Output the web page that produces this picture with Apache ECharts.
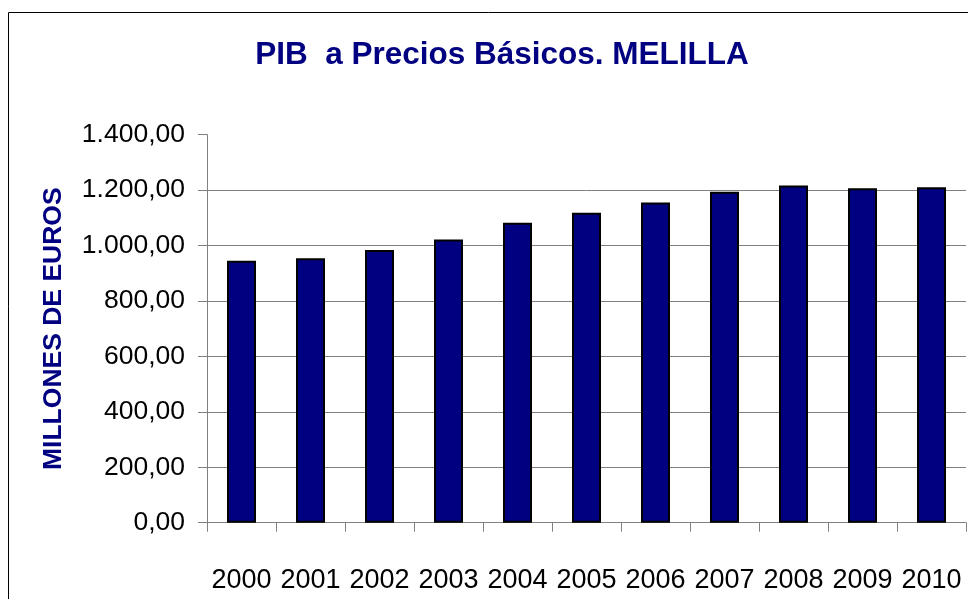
<!DOCTYPE html>
<html>
<head>
<meta charset="utf-8">
<script src="https://cdn.jsdelivr.net/npm/echarts@6/dist/echarts.min.js"></script>
<style>html,body{margin:0;padding:0;background:#fff}#c{width:968px;height:599px}</style>
</head>
<body>
<div id="c"></div>
<script>
const years = ['2000','2001','2002','2003','2004','2005','2006','2007','2008','2009','2010'];
const pib = [945, 954, 984, 1022, 1082, 1118, 1155, 1194, 1217, 1207, 1210];
const yTicks = [0, 200, 400, 600, 800, 1000, 1200, 1400];
const titleText = 'PIB  a Precios Básicos. MELILLA';
const yName = 'MILLONES DE EUROS';

function fmt(v){
  const s = Math.round(v).toString().replace(/\B(?=(\d{3})+(?!\d))/g, '.');
  return s + ',00';
}
const chart = echarts.init(document.getElementById('c'));
const ff = '"Liberation Sans", Arial, sans-serif';
chart.setOption({
  animation: false,
  backgroundColor: '#fff',
  graphic: [{type:'rect', shape:{x:8.5,y:12.5,width:1000,height:700}, style:{fill:'none', stroke:'#000', lineWidth:1}, silent:true}],
  title: {text: titleText, left: 497, top: 34, textAlign: 'center',
    textStyle: {fontFamily: ff, fontWeight: 'bold', fontSize: 31.5, color: '#000080'}},
  grid: {left: 207, top: 134.7, right: 2, bottom: 76.3, containLabel: false},
  xAxis: {type: 'category', data: years, boundaryGap: true,
    axisLine: {lineStyle: {color: '#808080', width: 1}},
    axisTick: {show: true, length: 9, alignWithLabel: false, lineStyle: {color: '#808080'}},
    axisLabel: {fontFamily: ff, fontSize: 27, color: '#000', margin: 44, interval: 0},
    splitLine: {show: false}},
  yAxis: {type: 'value', min: yTicks[0], max: yTicks[yTicks.length-1], interval: 200,
    name: yName, nameLocation: 'middle', nameGap: 140, nameRotate: 90,
    nameTextStyle: {fontFamily: ff, fontWeight: 'bold', fontSize: 26.5, color: '#000080'},
    axisLine: {show: true, lineStyle: {color: '#808080', width: 1}},
    axisTick: {show: true, length: 9, lineStyle: {color: '#808080'}},
    axisLabel: {fontFamily: ff, fontSize: 26.5, color: '#000', margin: 22, formatter: fmt},
    splitLine: {show: true, lineStyle: {color: ['#808080','#808080','#808080','#808080','#808080','#808080','#808080','rgba(0,0,0,0)'], width: 1}}},
  series: [{type: 'bar', data: pib, barWidth: '42%',
    itemStyle: {color: '#000080', borderColor: '#000', borderWidth: 2}}]
});
</script>
</body>
</html>
